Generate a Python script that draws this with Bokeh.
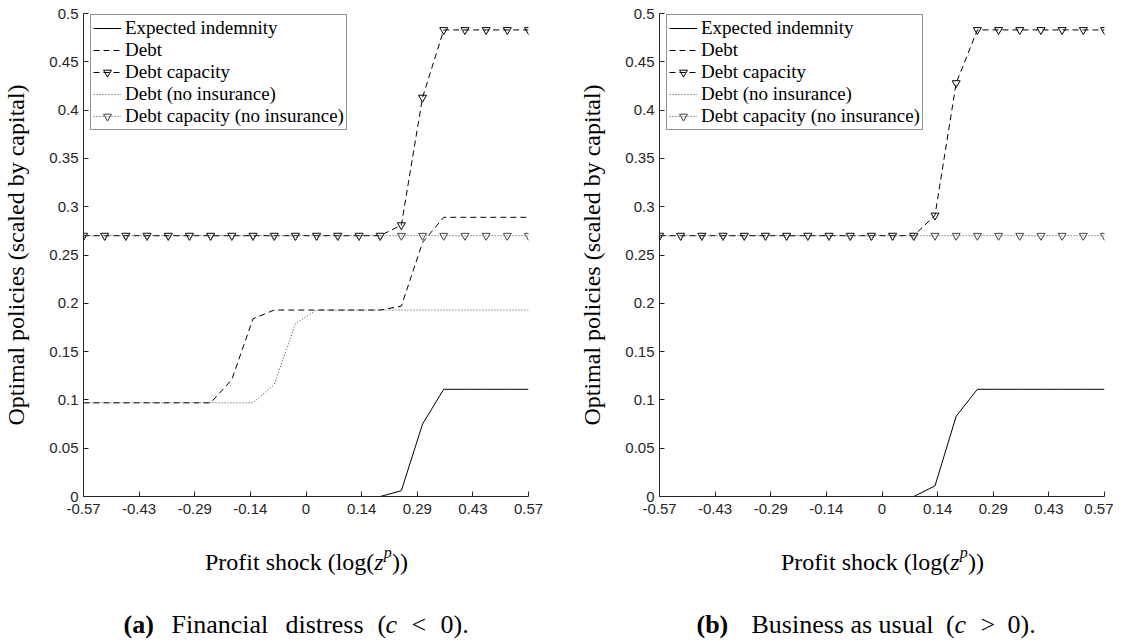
from bokeh.plotting import figure
from bokeh.models import Range1d, FixedTicker, Legend, LegendItem
from bokeh.layouts import row, column
from bokeh.embed import file_html
from bokeh.resources import INLINE
from bokeh.core.properties import value

# ---------------- data ----------------
shock = [-0.5714, -0.5170, -0.4626, -0.4082, -0.3537, -0.2993, -0.2449, -0.1905,
         -0.1361, -0.0816, -0.0272, 0.0272, 0.0816, 0.1361, 0.1905, 0.2449,
         0.2993, 0.3537, 0.4082, 0.4626, 0.5170, 0.5714]

x_ticks = [-0.5714, -0.4286, -0.2857, -0.1429, 0.0, 0.1429, 0.2857, 0.4286, 0.5714]
x_tick_labels = ["-0.57", "-0.43", "-0.29", "-0.14", "0", "0.14", "0.29", "0.43", "0.57"]
y_ticks = [0.0, 0.05, 0.1, 0.15, 0.2, 0.25, 0.3, 0.35, 0.4, 0.45, 0.5]
y_tick_labels = ["0", "0.05", "0.1", "0.15", "0.2", "0.25", "0.3", "0.35", "0.4", "0.45", "0.5"]

series_names = ["Expected indemnity", "Debt", "Debt capacity",
                "Debt (no insurance)", "Debt capacity (no insurance)"]

# panel (a): financial distress
a_indemnity = [0, 0, 0, 0, 0, 0, 0, 0, 0, 0, 0, 0, 0, 0, 0,
               0.006, 0.075, 0.111, 0.111, 0.111, 0.111, 0.111]
a_debt = [0.097, 0.097, 0.097, 0.097, 0.097, 0.097, 0.097, 0.121, 0.184, 0.193,
          0.193, 0.193, 0.193, 0.193, 0.193, 0.197, 0.263, 0.289, 0.289, 0.289,
          0.289, 0.289]
a_capacity = [0.27, 0.27, 0.27, 0.27, 0.27, 0.27, 0.27, 0.27, 0.27, 0.27, 0.27,
              0.27, 0.27, 0.27, 0.27, 0.281, 0.413, 0.483, 0.483, 0.483, 0.483, 0.483]
a_debt_noins = [0.097, 0.097, 0.097, 0.097, 0.097, 0.097, 0.097, 0.097, 0.097,
                0.116, 0.179, 0.193, 0.193, 0.193, 0.193, 0.193, 0.193, 0.193,
                0.193, 0.193, 0.193, 0.193]
a_capacity_noins = [0.27] * 22

# panel (b): business as usual
b_indemnity = [0, 0, 0, 0, 0, 0, 0, 0, 0, 0, 0, 0, 0,
               0.011, 0.083, 0.111, 0.111, 0.111, 0.111, 0.111, 0.111, 0.111]
b_debt = [0] * 22
b_capacity = [0.27, 0.27, 0.27, 0.27, 0.27, 0.27, 0.27, 0.27, 0.27, 0.27, 0.27,
              0.27, 0.27, 0.291, 0.428, 0.483, 0.483, 0.483, 0.483, 0.483, 0.483, 0.483]
b_debt_noins = [0] * 22
b_capacity_noins = [0.27] * 22

y_label = "Optimal policies (scaled by capital)"
x_label_parts = ["Profit shock (log(", "z", "p", "))"]
caption_a_parts = ["(a)", "Financial", "distress", "(", "c", "<", "0)."]
caption_b_parts = ["(b)", "Business as usual", "(", "c", ">", "0)."]

# ---------------- style / layout ----------------
AX = "#262626"
SERIF = "Liberation Serif"
SANS = "Liberation Sans"
FW, FH = 445, 483
TOP = 13
PLOT_H = TOP + FH + 28
TOTAL_H = 640
TEXT_H = TOTAL_H - PLOT_H
X_MIN, X_MAX = -0.5714, 0.5714
LEGEND_H = 112


def make_panel(border_left, border_right, data):
    p = figure(width=border_left + FW + border_right, height=PLOT_H,
               frame_width=FW, frame_height=FH,
               min_border_left=border_left, min_border_right=border_right,
               min_border_top=TOP, min_border_bottom=PLOT_H - TOP - FH,
               x_range=Range1d(X_MIN, X_MAX), y_range=Range1d(0, 0.5),
               output_backend="svg", toolbar_location=None)
    p.outline_line_color = None
    p.grid.visible = False
    p.background_fill_color = "white"
    p.border_fill_color = "white"

    p.xaxis.ticker = FixedTicker(ticks=x_ticks)
    p.xaxis.major_label_overrides = {t: l for t, l in zip(x_ticks, x_tick_labels)}
    p.yaxis.ticker = FixedTicker(ticks=y_ticks)
    p.yaxis.major_label_overrides = {t: l for t, l in zip(y_ticks, y_tick_labels)}
    for ax in (p.xaxis, p.yaxis):
        ax.axis_line_color = AX
        ax.axis_line_width = 1
        ax.major_tick_line_color = AX
        ax.major_tick_in = 5
        ax.major_tick_out = 0
        ax.minor_tick_line_color = None
        ax.major_label_text_font = SANS
        ax.major_label_text_font_size = "15px"
        ax.major_label_text_color = AX
    p.xaxis.major_label_standoff = 7
    p.yaxis.major_label_standoff = 5
    p.yaxis.axis_label = y_label
    p.yaxis.axis_label_text_font = SERIF
    p.yaxis.axis_label_text_font_size = "24px"
    p.yaxis.axis_label_text_font_style = "normal"
    p.yaxis.axis_label_text_color = "black"
    p.yaxis.axis_label_standoff = 17

    ind, debt, cap, debt_ni, cap_ni = data
    r1 = p.line(shock, ind, line_color="black", line_width=1)
    r2 = p.line(shock, debt, line_color="black", line_width=1, line_dash="6 4")
    r3l = p.line(shock, cap, line_color="black", line_width=1, line_dash="6 4")
    r3m = p.scatter(shock, cap, marker="inverted_triangle", size=8,
                    fill_color=None, line_color="black", line_width=1)
    r4 = p.line(shock, debt_ni, line_color="#444444", line_width=1, line_dash="1 2")
    r5l = p.line(shock, cap_ni, line_color="#444444", line_width=1, line_dash="1 2")
    r5m = p.scatter(shock, cap_ni, marker="inverted_triangle", size=8,
                    fill_color=None, line_color="#444444", line_width=1)

    legend = Legend(items=[
        LegendItem(label=series_names[0], renderers=[r1]),
        LegendItem(label=series_names[1], renderers=[r2]),
        LegendItem(label=series_names[2], renderers=[r3l, r3m]),
        LegendItem(label=series_names[3], renderers=[r4]),
        LegendItem(label=series_names[4], renderers=[r5l, r5m]),
    ], location=(7, FH - 5 - LEGEND_H))
    legend.margin = 0
    legend.padding = 2
    legend.spacing = 0
    legend.glyph_width = 28
    legend.glyph_height = 20
    legend.label_height = 20
    legend.label_standoff = 4
    legend.label_text_font = SERIF
    legend.label_text_font_size = "19px"
    legend.label_text_color = "black"
    legend.border_line_color = AX
    legend.border_line_width = 1
    legend.background_fill_color = "white"
    legend.background_fill_alpha = 1
    p.add_layout(legend)
    return p


def make_text_panel(border_left, border_right, frame_left_img, caption_parts,
                    caption_x, caption_styles):
    # frame aligned with the plot above it (same left/right borders)
    t = figure(width=border_left + FW + border_right, height=TEXT_H,
               frame_width=FW, frame_height=TEXT_H,
               min_border_left=border_left, min_border_right=border_right,
               min_border_top=0, min_border_bottom=0,
               x_range=Range1d(0, FW), y_range=Range1d(0, TEXT_H),
               x_axis_location=None, y_axis_location=None,
               output_backend="svg", toolbar_location=None)
    t.outline_line_color = None
    t.grid.visible = False
    t.background_fill_color = "white"
    t.border_fill_color = "white"
    top_img = PLOT_H

    def ty(img_y):
        return TEXT_H - (img_y - top_img)

    def tx(img_x):
        return img_x - frame_left_img

    # x-axis title, centred under the frame
    cx = frame_left_img + FW / 2
    start = cx - 101
    xl = [(x_label_parts[0], start, 561.7, "normal", "24px"),
          (x_label_parts[1], start + 169.3, 561.7, "italic", "24px"),
          (x_label_parts[2], start + 178.8, 552.0, "italic", "16px"),
          (x_label_parts[3], start + 187.0, 561.7, "normal", "24px")]
    for txt, ix, iy, style, size in xl:
        t.text(x=[tx(ix)], y=[ty(iy)], text=[txt], text_font=value(SERIF),
               text_font_size=value(size), text_font_style=value(style),
               text_align="left", text_baseline="alphabetic", text_color="black")
    for txt, ix, style in zip(caption_parts, caption_x, caption_styles):
        t.text(x=[tx(ix)], y=[ty(624)], text=[txt], text_font=value(SERIF),
               text_font_size=value("26px"), text_font_style=value(style),
               text_align="left", text_baseline="alphabetic", text_color="black")
    return t


pa = make_panel(76, 32, (a_indemnity, a_debt, a_capacity, a_debt_noins, a_capacity_noins))
pb = make_panel(99, 9, (b_indemnity, b_debt, b_capacity, b_debt_noins, b_capacity_noins))
ta = make_text_panel(76, 32, 84, caption_a_parts, [124, 172, 286, 378, 386, 412, 441],
                     ["bold", "normal", "normal", "normal", "italic", "normal", "normal"])
tb = make_text_panel(99, 9, 660, caption_b_parts, [697, 752, 946.5, 955, 981, 1008],
                     ["bold", "normal", "normal", "italic", "normal", "normal"])

layout = row(column(pa, ta), column(pb, tb))
open("out.html", "w").write(file_html(layout, INLINE))
